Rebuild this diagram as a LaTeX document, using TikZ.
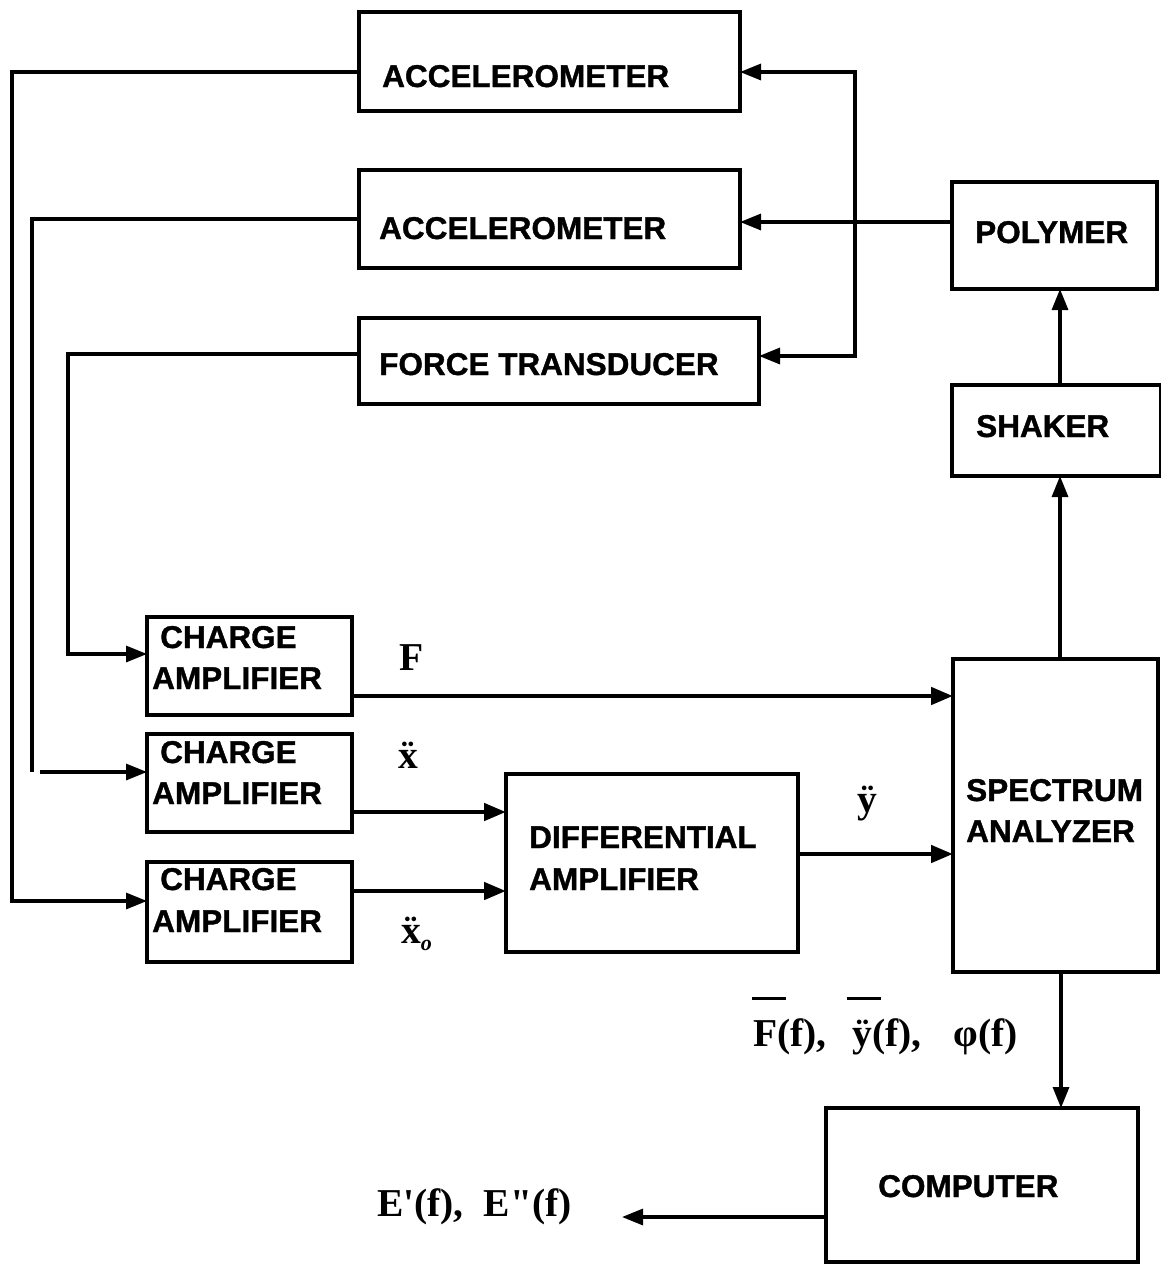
\documentclass[tikz,border=0pt]{standalone}
\usepackage{fontspec}
\setmainfont{Liberation Serif}
\newfontfamily\boxfont{Liberation Sans}[BoldFeatures={FakeBold=1.2}]
\newfontfamily\lblfont{Liberation Serif}[Ligatures=TeXOff]
\usetikzlibrary{arrows.meta}
\newcommand\barover[2]{\rlap{\kern#1\raisebox{46pt}{\rule{34pt}{3pt}}}#2}
\newcommand\xdd{{\accent"A8 x}}
\begin{document}
\begin{tikzpicture}[x=1pt,y=-1pt,
  blk/.style={draw, line width=3.3pt, inner sep=0pt, outer sep=0pt, anchor=north west},
  txt/.style={anchor=base west, inner sep=0pt, font=\boxfont\bfseries\fontsize{31.5}{34}\selectfont},
  sym/.style={inner sep=0pt, font=\lblfont\bfseries\fontsize{39.5}{42}\selectfont},
  conn/.style={line width=3.2pt, -{Triangle[length=21pt,width=16pt]}},
  wire/.style={line width=3.2pt},
  sig/.style={line width=4.6pt, -{Triangle[length=22pt,width=17pt]}}]
\useasboundingbox (0,0) rectangle (1161,1264);

% boxes
\node[blk, minimum width=381pt, minimum height=99pt] (acc1) at (359,12) {};
\node[blk, minimum width=381pt, minimum height=98pt] (acc2) at (359,170) {};
\node[blk, minimum width=400pt, minimum height=86pt] (ft) at (359,318) {};
\node[blk, minimum width=205pt, minimum height=107pt] (poly) at (952,182) {};
\node[blk, minimum width=209pt, minimum height=91pt] (shaker) at (952,385) {};
\node[blk, minimum width=205pt, minimum height=313pt] (sa) at (953,659) {};
\node[blk, minimum width=205pt, minimum height=98pt] (ca1) at (147,617) {};
\node[blk, minimum width=205pt, minimum height=98pt] (ca2) at (147,734) {};
\node[blk, minimum width=205pt, minimum height=100pt] (ca3) at (147,862) {};
\node[blk, minimum width=292pt, minimum height=178pt] (da) at (506,774) {};
\node[blk, minimum width=312pt, minimum height=154pt] (comp) at (826,1108) {};

% box texts
\node[txt] (acc1t) at (382,87) {ACCELEROMETER};
\node[txt] (acc2t) at (379,239) {ACCELEROMETER};
\node[txt] (ftt) at (379,375) {FORCE TRANSDUCER};
\node[txt] (polyt) at (975,243) {POLYMER};
\node[txt] (shakert) at (976,437) {SHAKER};
\node[txt] (ca1a) at (160,648) {CHARGE};
\node[txt] (ca1b) at (152,689) {AMPLIFIER};
\node[txt] (ca2a) at (160,763) {CHARGE};
\node[txt] (ca2b) at (152,804) {AMPLIFIER};
\node[txt] (ca3a) at (160,890) {CHARGE};
\node[txt] (ca3b) at (152,932) {AMPLIFIER};
\node[txt] (sa1) at (966,801) {SPECTRUM};
\node[txt] (sa2) at (966,842) {ANALYZER};
\node[txt] (da1) at (529,848) {DIFFERENTIAL};
\node[txt] (da2) at (529,890) {AMPLIFIER};
\node[txt] (compt) at (878,1197) {COMPUTER};

% signal labels
\node[sym, anchor=base] (lF) at (412,670) {F};
\node[sym, anchor=base] (lx) at (408,768) {\xdd};
\node[sym, anchor=base west] (lxo) at (401,943) {\xdd\raisebox{-7pt}{\fontsize{22}{22}\selectfont\itshape o}};
\node[sym, anchor=base] (ly) at (867,812) {ÿ};
\node[sym, anchor=base west] (lspec) at (753,1046) {\barover{-1pt}{F}(f),\hspace{26pt}\barover{-6pt}{ÿ}(f),\hspace{32pt}φ(f)};
\node[sym, anchor=base west] (lE) at (377,1216) {E'(f),\hspace{20pt}E"(f)};

% junction coordinates
\coordinate (jn) at (855,222);
\coordinate (g1) at (32,772);
\coordinate (g2) at (40,772);
\coordinate (eout) at (622,1217);

% top-right feed from polymer
\draw[conn] (poly.west |- 0,222) -- (acc2.east |- 0,222);
\draw[conn] (jn) |- (acc1.east |- 0,72);
\draw[conn] (jn) |- (ft.east |- 0,356);
\draw[conn] (shaker.north -| 1060,0) -- (poly.south -| 1060,0);
\draw[conn] (sa.north -| 1060,0) -- (shaker.south -| 1060,0);

% left return lines
\draw[conn] (acc1.west |- 0,72) -| (12,901) -- (ca3.west |- 0,901);
\draw[wire] (acc2.west |- 0,219) -| (g1);
\draw[conn] (g2) -- (ca2.west |- 0,772);
\draw[conn] (ft.west |- 0,354) -| (68,654) -- (ca1.west |- 0,654);

% signal lines
\draw[sig] (ca1.east |- 0,696) -- (sa.west |- 0,696);
\draw[sig] (ca2.east |- 0,812) -- (da.west |- 0,812);
\draw[sig] (ca3.east |- 0,891) -- (da.west |- 0,891);
\draw[sig] (da.east |- 0,854) -- (sa.west |- 0,854);

% outputs
\draw[conn] (sa.south -| 1061,0) -- (comp.north -| 1061,0);
\draw[conn] (comp.west |- 0,1217) -- (eout);
\end{tikzpicture}
\end{document}
